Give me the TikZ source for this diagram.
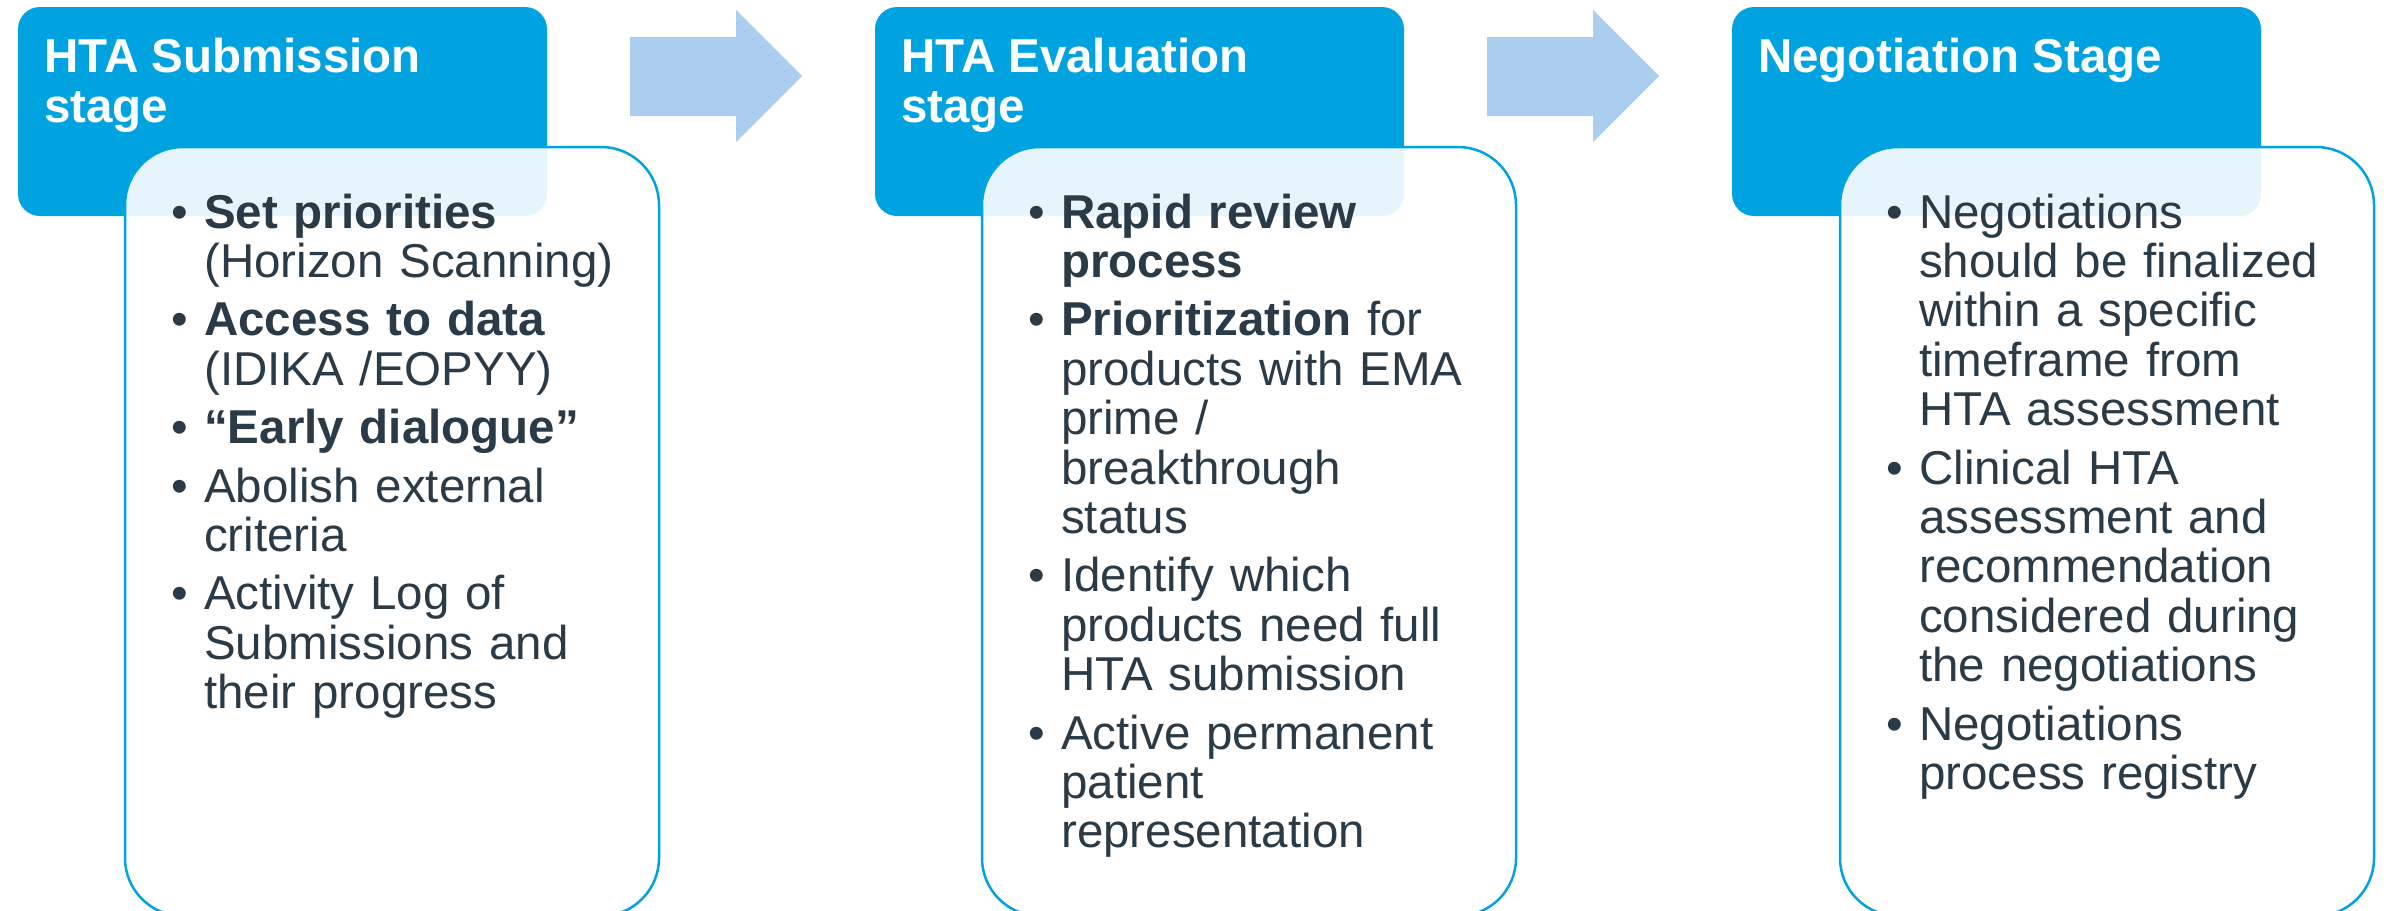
\documentclass[tikz,border=0pt]{standalone}
\usepackage{fontspec}
\setmainfont{Liberation Sans}
\definecolor{hdrblue}{RGB}{0,163,224}
\definecolor{arrblue}{RGB}{171,206,238}
\definecolor{txtcol}{RGB}{42,58,71}
\newcommand{\bul}{\noindent\llap{•\hspace{15.7pt}}}
\tikzset{
  hdr/.style={fill=hdrblue, draw=none, rounded corners=22pt, minimum width=529pt, minimum height=209pt, anchor=north west, inner sep=0pt, outer sep=0pt},
  card/.style={fill=white, fill opacity=0.9, draw=hdrblue, line width=2.5pt, rounded corners=58pt, minimum width=534pt, minimum height=769pt, anchor=north west, inner sep=0pt, outer sep=0pt},
  ttl/.style={text=white, font=\fontsize{47.5}{50}\selectfont\bfseries, anchor=base west, align=left, inner sep=0pt},
  body/.style={text=txtcol, anchor=base west, text width=500pt, align=left, inner sep=0pt, font=\fontsize{47.5}{49.4}\selectfont},
  bigarrow/.style={fill=arrblue, draw=none}
}
\begin{document}
\begin{tikzpicture}[x=1pt,y=-1pt]
\path[use as bounding box] (0,0) rectangle (2387,910);
\clip (0,0) rectangle (2387,910);
% headers
\node[hdr] (h1) at (18,7) {};
\node[hdr] (h2) at (875,7) {};
\node[hdr] (h3) at (1732,7) {};
% arrows
\path[bigarrow] (630,37) -- (736,37) -- (736,10) -- (802,76) -- (736,142) -- (736,116) -- (630,116) -- cycle;
\path[bigarrow] (1487,37) -- (1593,37) -- (1593,10) -- (1659,76) -- (1593,142) -- (1593,116) -- (1487,116) -- cycle;
% cards
\node[card] (c1) at (125,147) {};
\node[card] (c2) at (982,147) {};
\node[card] (c3) at (1840,147) {};
% titles (base anchor = last line)
\node[ttl] (t1) at (44,122) {HTA Submission\\stage};
\node[ttl] (t2) at (901,122) {HTA Evaluation\\stage};
\node[ttl] (t3) at (1758,72) {Negotiation Stage};
% bodies
\node[body] (b1) at (204,228) {\setlength\parskip{9pt}%
\bul\textbf{Set priorities}\\(Horizon Scanning)\par
\bul\textbf{Access to data}\\(IDIKA /EOPYY)\par
\bul\textbf{“Early dialogue”}\par
\bul Abolish external\\criteria\par
\bul Activity Log of\\Submissions and\\their progress};
\node[body] (b2) at (1061,228) {\setlength\parskip{9pt}%
\bul\textbf{Rapid review}\\\textbf{process}\par
\bul\textbf{Prioritization} for\\products with EMA\\prime /\\breakthrough\\status\par
\bul Identify which\\products need full\\HTA submission\par
\bul Active permanent\\patient\\representation};
\node[body] (b3) at (1919,228) {\setlength\parskip{9pt}%
\bul Negotiations\\should be finalized\\within a specific\\timeframe from\\HTA assessment\par
\bul Clinical HTA\\assessment and\\recommendation\\considered during\\the negotiations\par
\bul Negotiations\\process registry};
\end{tikzpicture}
\end{document}
